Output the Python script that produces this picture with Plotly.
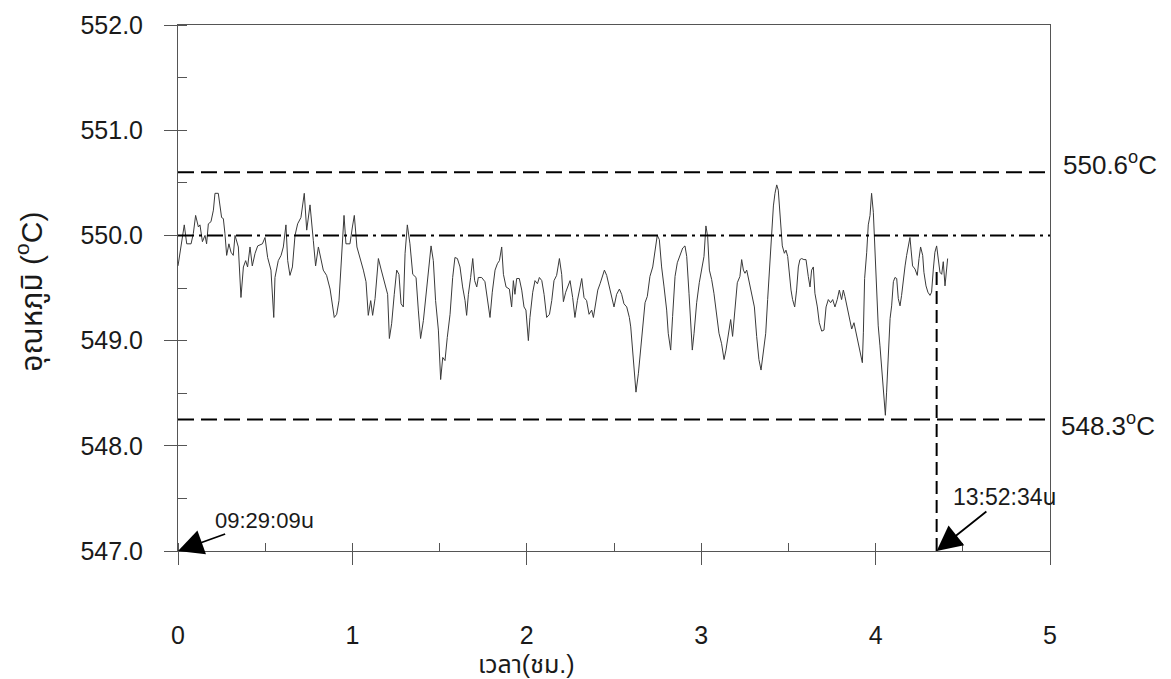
import plotly.graph_objects as go

# ---------------- data ----------------
time_hr = [
    0.000, 0.021, 0.036, 0.050, 0.075, 0.088, 0.101, 0.117, 0.126, 0.140,
    0.155, 0.164, 0.174, 0.189, 0.203, 0.212, 0.231, 0.250, 0.260, 0.269,
    0.279, 0.292, 0.304, 0.317, 0.327, 0.346, 0.361, 0.375, 0.388, 0.399,
    0.413, 0.426, 0.442, 0.457, 0.484, 0.499, 0.514, 0.533, 0.549, 0.556,
    0.575, 0.591, 0.604, 0.619, 0.629, 0.642, 0.656, 0.671, 0.686, 0.705,
    0.724, 0.738, 0.757, 0.776, 0.789, 0.805, 0.820, 0.833, 0.852, 0.872,
    0.896, 0.910, 0.923, 0.938, 0.952, 0.963, 0.986, 1.000, 1.011, 1.026,
    1.044, 1.063, 1.078, 1.091, 1.105, 1.116, 1.130, 1.149, 1.164, 1.183,
    1.202, 1.212, 1.225, 1.240, 1.254, 1.267, 1.279, 1.292,
    1.302, 1.315, 1.330, 1.346, 1.365, 1.378, 1.391, 1.407, 1.426, 1.441,
    1.451, 1.464, 1.477, 1.493, 1.506, 1.518, 1.531, 1.544, 1.560, 1.575,
    1.588, 1.602, 1.617, 1.632, 1.646, 1.655, 1.665, 1.678, 1.690, 1.701,
    1.713, 1.722, 1.741, 1.760, 1.774, 1.789, 1.802, 1.818, 1.831, 1.843,
    1.856, 1.866, 1.881, 1.900, 1.913, 1.923, 1.932, 1.942, 1.957, 1.971,
    1.984, 1.995, 2.009, 2.018, 2.034, 2.047, 2.061, 2.072, 2.086, 2.099,
    2.114, 2.130, 2.143, 2.156, 2.171, 2.187, 2.200, 2.210, 2.223, 2.234,
    2.248, 2.263, 2.276, 2.290, 2.301, 2.315, 2.328, 2.343, 2.357, 2.372,
    2.382, 2.395, 2.407, 2.420, 2.433, 2.445, 2.458, 2.473, 2.487, 2.500,
    2.515, 2.531, 2.544, 2.557, 2.573, 2.588,
    2.596, 2.611, 2.626, 2.640, 2.653, 2.668, 2.678, 2.691, 2.706, 2.722,
    2.735, 2.748, 2.760, 2.773, 2.787, 2.802, 2.811, 2.825, 2.836, 2.850,
    2.863, 2.878, 2.894, 2.907, 2.917, 2.930, 2.942, 2.949, 2.959, 2.974,
    2.989, 3.003, 3.016, 3.027, 3.037, 3.047, 3.060, 3.073, 3.089, 3.102,
    3.117, 3.131, 3.142, 3.156, 3.169, 3.180, 3.194, 3.207, 3.222, 3.232,
    3.242, 3.251, 3.261, 3.276, 3.289, 3.305, 3.318, 3.331, 3.343, 3.356,
    3.370, 3.381, 3.391, 3.404, 3.414, 3.423, 3.433, 3.442, 3.456, 3.465,
    3.477, 3.486, 3.496, 3.505, 3.515, 3.524, 3.536, 3.547, 3.557, 3.566,
    3.576, 3.589, 3.601, 3.614, 3.624, 3.633, 3.643, 3.652, 3.666, 3.677,
    3.691, 3.704, 3.716, 3.729, 3.742, 3.754, 3.767, 3.780, 3.792, 3.805,
    3.815, 3.824, 3.838,
    3.849, 3.863, 3.876, 3.888, 3.901, 3.914, 3.924, 3.930, 3.937, 3.949,
    3.958, 3.968, 3.977, 3.987, 3.996, 4.006, 4.015, 4.025, 4.035, 4.044,
    4.056, 4.063, 4.073, 4.083, 4.092, 4.102, 4.111, 4.121, 4.130, 4.140,
    4.149, 4.159, 4.169, 4.178, 4.188, 4.197, 4.203, 4.212, 4.226, 4.239,
    4.249, 4.258, 4.270, 4.277, 4.289, 4.300, 4.312, 4.321, 4.331, 4.340,
    4.350, 4.360, 4.369, 4.379, 4.388, 4.398, 4.407, 4.413,
]

temp_c = [
    549.71, 549.92, 550.10, 549.92, 549.92, 550.02, 550.19, 550.08, 550.10, 549.94,
    550.00, 549.92, 550.11, 550.13, 550.24, 550.40, 550.40, 550.17, 550.16, 550.02,
    549.81, 549.92, 549.84, 549.81, 550.00, 549.89, 549.41, 549.70, 549.76, 549.70,
    549.89, 549.71, 549.83, 549.90, 549.92, 549.98, 549.79, 549.67, 549.22, 549.60,
    549.76, 549.81, 549.89, 550.10, 549.76, 549.62, 549.70, 550.00, 550.11, 550.17,
    550.40, 550.05, 550.29, 549.95, 549.71, 549.89, 549.76, 549.67, 549.62, 549.49,
    549.22, 549.25, 549.38, 549.79, 550.19, 549.92, 549.92, 550.08, 550.19, 549.89,
    549.79, 549.67, 549.56, 549.24, 549.38, 549.24, 549.40, 549.78, 549.68, 549.57,
    549.44, 549.02, 549.16, 549.44, 549.67, 549.63, 549.35, 549.32,
    549.83, 550.10, 549.92, 549.63, 549.60, 549.29, 549.02, 549.19, 549.51, 549.79,
    549.90, 549.76, 549.38, 549.10, 548.63, 548.84, 548.81, 549.03, 549.25, 549.60,
    549.79, 549.78, 549.70, 549.51, 549.38, 549.24, 549.44, 549.60, 549.78, 549.57,
    549.51, 549.60, 549.60, 549.56, 549.38, 549.22, 549.46, 549.67, 549.73, 549.76,
    549.89, 549.63, 549.51, 549.49, 549.32, 549.57, 549.44, 549.59, 549.59, 549.48,
    549.32, 549.29, 549.00, 549.22, 549.46, 549.57, 549.54, 549.60, 549.57, 549.44,
    549.22, 549.25, 549.38, 549.57, 549.62, 549.78, 549.63, 549.37, 549.46, 549.51,
    549.57, 549.41, 549.22, 549.38, 549.48, 549.59, 549.41, 549.38, 549.25, 549.29,
    549.22, 549.38, 549.48, 549.54, 549.60, 549.67, 549.62, 549.51, 549.41, 549.32,
    549.44, 549.49, 549.44, 549.35, 549.32, 549.22,
    549.13, 548.82, 548.51, 548.69, 548.94, 549.20, 549.36, 549.42, 549.61, 549.70,
    549.86, 550.00, 549.96, 549.70, 549.51, 549.29, 549.07, 548.91, 549.23, 549.61,
    549.74, 549.80, 549.88, 549.90, 549.80, 549.45, 549.17, 548.91, 549.07, 549.36,
    549.55, 549.70, 549.80, 550.09, 549.99, 549.67, 549.58, 549.45, 549.26, 549.07,
    548.97, 548.82, 548.91, 549.07, 549.20, 549.04, 549.32, 549.55, 549.61, 549.77,
    549.67, 549.64, 549.67, 549.55, 549.48, 549.32, 549.04, 548.82, 548.72, 548.88,
    549.07, 549.39, 549.67, 549.99, 550.28, 550.40, 550.48, 550.43, 550.15, 549.90,
    549.83, 549.86, 549.80, 549.61, 549.48, 549.39, 549.32, 549.48, 549.70, 549.77,
    549.78, 549.77, 549.77, 549.61, 549.51, 549.67, 549.70, 549.45, 549.32, 549.17,
    549.09, 549.10, 549.32, 549.39, 549.36, 549.39, 549.32, 549.39, 549.48, 549.39,
    549.48, 549.42, 549.32,
    549.24, 549.11, 549.17, 549.08, 548.98, 548.86, 548.79, 549.08, 549.59, 549.84,
    550.10, 550.19, 550.40, 550.22, 549.90, 549.46, 549.14, 548.95, 548.76, 548.51,
    548.29, 548.51, 548.89, 549.21, 549.33, 549.56, 549.60, 549.59, 549.40, 549.33,
    549.43, 549.59, 549.71, 549.81, 549.90, 549.98, 549.87, 549.71, 549.68, 549.62,
    549.78, 549.89, 549.81, 549.65, 549.52, 549.46, 549.43, 549.46, 549.68, 549.84,
    549.90, 549.78, 549.65, 549.63, 549.75, 549.52, 549.71, 549.78,
]

upper_limit = 550.6      # dashed line
set_point = 550.0        # dash-dot line
lower_limit = 548.25     # dashed line (labelled 548.3 °C)
upper_label = "550.6<sup>o</sup>C"
lower_label = "548.3<sup>o</sup>C"
start_time_hr = 0.0
end_time_hr = 4.35
end_marker_top = 549.7
start_label = "09:29:09น"
end_label = "13:52:34น"
x_title = "เวลา(ชม.)"
y_title = "อุณหภูมิ (<sup>o</sup>C)"
x_range = [0, 5]
y_range = [547, 552]

FONT = "Liberation Sans, Arial, Noto Sans Thai, Tahoma, DejaVu Sans, sans-serif"
INK = "#1a1a1a"

fig = go.Figure()
fig.add_trace(go.Scatter(
    x=time_hr, y=temp_c, mode="lines",
    line=dict(color="#3a3a3a", width=1),
    showlegend=False, hoverinfo="skip",
))

# reference lines
for yv, dash in [(upper_limit, "16px,7px"), (lower_limit, "16px,7px"),
                 (set_point, "16px,5px,3px,5px")]:
    fig.add_shape(type="line", xref="x", yref="y",
                  x0=x_range[0], x1=x_range[1], y0=yv, y1=yv,
                  line=dict(color="black", width=2, dash=dash))
fig.add_shape(type="line", xref="x", yref="y",
              x0=end_time_hr, x1=end_time_hr, y0=y_range[0], y1=end_marker_top,
              line=dict(color="black", width=2, dash="13px,6px"))

# right-side labels
fig.add_annotation(xref="paper", yref="y", x=1.013, y=550.68, text=upper_label,
                   showarrow=False, xanchor="left", yanchor="middle",
                   font=dict(family=FONT, size=26, color=INK))
fig.add_annotation(xref="paper", yref="y", x=1.010, y=548.2, text=lower_label,
                   showarrow=False, xanchor="left", yanchor="middle",
                   font=dict(family=FONT, size=26, color=INK))

# arrows with time labels
fig.add_annotation(xref="x", yref="y", x=start_time_hr, y=y_range[0],
                   text=start_label, showarrow=True, axref="pixel", ayref="pixel",
                   ax=86, ay=-31, arrowhead=2, arrowsize=2.8, arrowwidth=1.8,
                   arrowcolor="black",
                   font=dict(family=FONT, size=22, color=INK))
fig.add_annotation(xref="x", yref="y", x=end_time_hr, y=y_range[0],
                   text=end_label, showarrow=True, axref="pixel", ayref="pixel",
                   ax=68, ay=-54, arrowhead=2, arrowsize=2.8, arrowwidth=1.8,
                   arrowcolor="black",
                   font=dict(family=FONT, size=23, color=INK))

# axis titles
fig.add_annotation(xref="x", yref="paper", x=2.0, y=-0.215, text=x_title,
                   showarrow=False, xanchor="center", yanchor="middle",
                   font=dict(family=FONT, size=25, color=INK))
fig.add_annotation(xref="paper", yref="y", x=-0.169, y=549.46, text=y_title,
                   showarrow=False, textangle=-90, xanchor="center", yanchor="middle",
                   font=dict(family=FONT, size=30, color=INK))

fig.update_layout(
    width=1171, height=679,
    margin=dict(l=178, r=121, t=25, b=128),
    paper_bgcolor="white", plot_bgcolor="white",
    font=dict(family=FONT, size=25, color=INK),
    showlegend=False,
)
fig.update_xaxes(
    range=x_range, dtick=1, tick0=0, showgrid=False, zeroline=False,
    showline=True, mirror=True, linecolor="#555", linewidth=1,
    ticks="outside", ticklen=13, tickcolor="#555", tickwidth=1,
    minor=dict(dtick=0.5, ticks="inside", ticklen=8, tickcolor="#555", showgrid=False),
    ticklabelstandoff=49, tickfont=dict(family=FONT, size=25, color=INK),
)
fig.update_yaxes(
    range=y_range, dtick=1, tick0=547, tickformat=".1f", showgrid=False, zeroline=False,
    showline=True, mirror=True, linecolor="#555", linewidth=1,
    ticks="outside", ticklen=13, tickcolor="#555", tickwidth=1,
    minor=dict(dtick=0.5, ticks="inside", ticklen=9, tickcolor="#555", showgrid=False),
    ticklabelstandoff=16, tickfont=dict(family=FONT, size=25, color=INK),
)

fig.write_html("out.html")
